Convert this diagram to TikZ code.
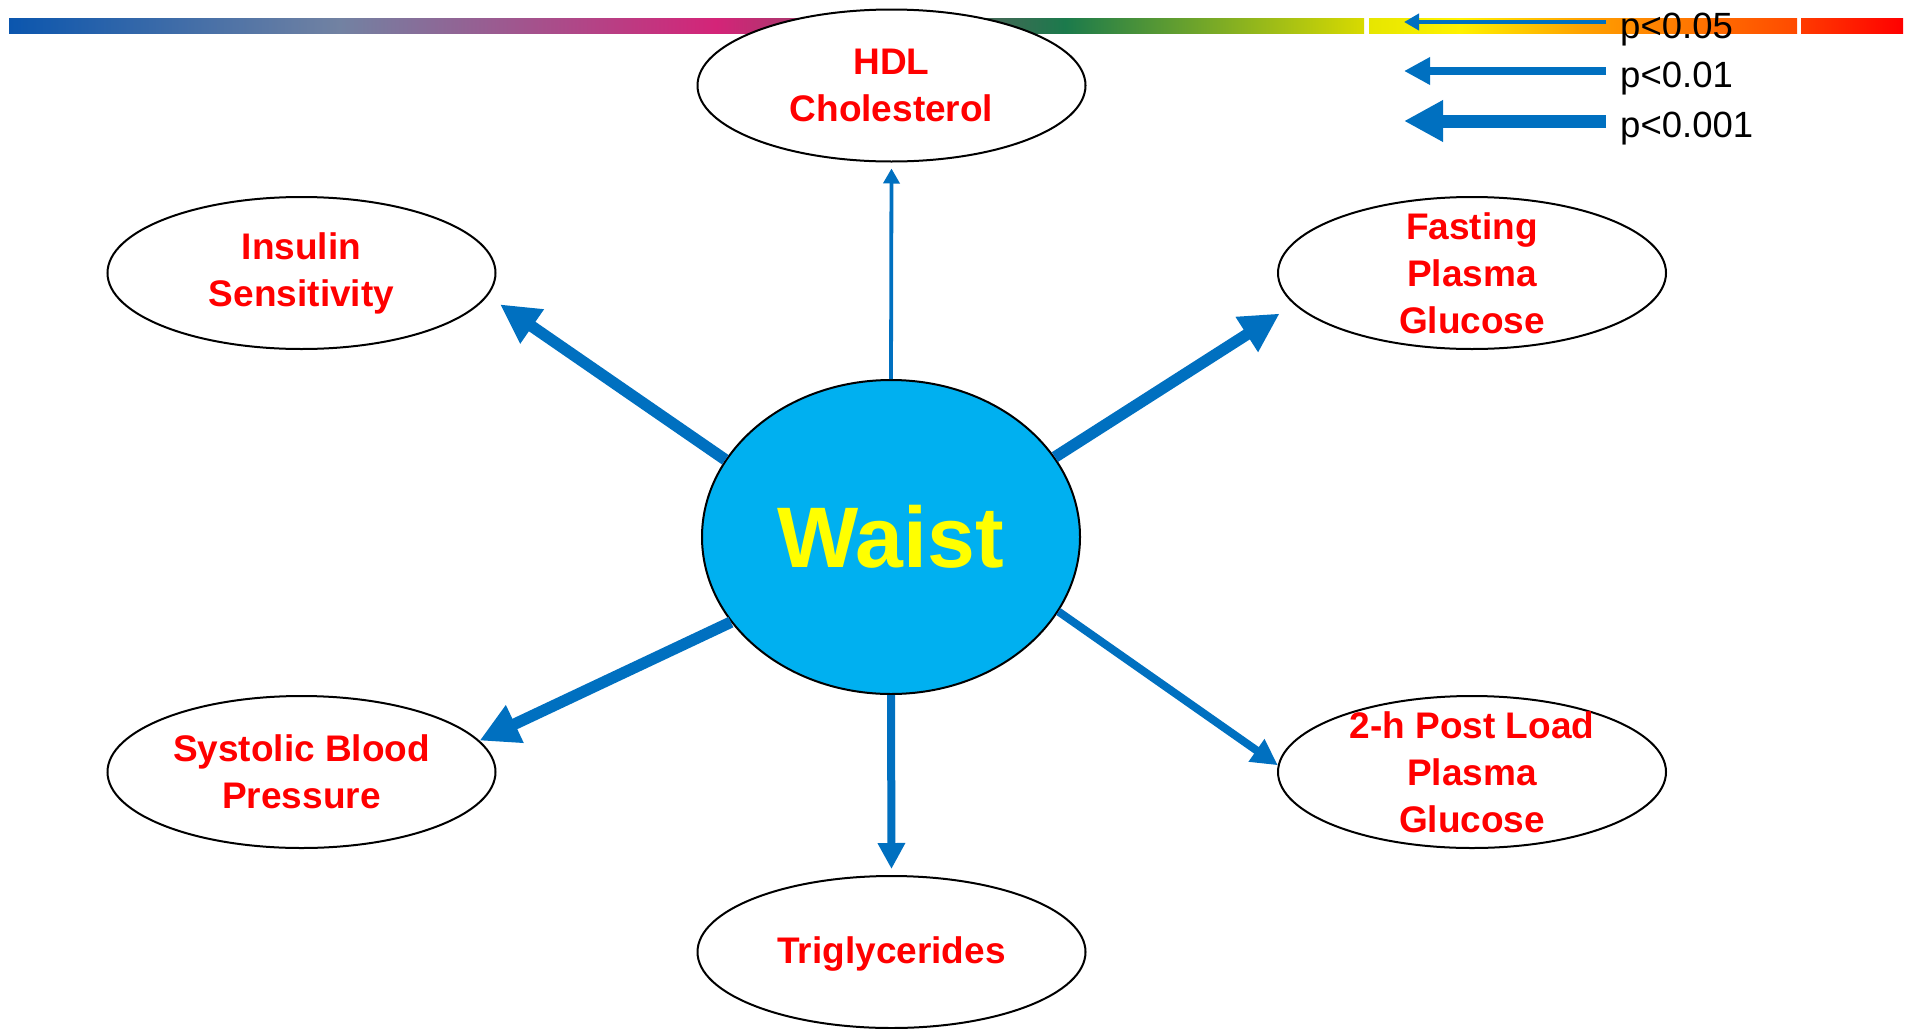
\documentclass[tikz,border=0pt]{standalone}
\usepackage{fontspec}
\setmainfont{Liberation Sans}
\usetikzlibrary{arrows.meta,shapes.geometric}
\definecolor{arrowblue}{HTML}{0070C0}
\definecolor{waistblue}{HTML}{00B0F0}
\definecolor{labelred}{HTML}{FF0000}
\definecolor{waistyellow}{HTML}{FFFF00}
\definecolor{gA}{HTML}{0B56AE}
\definecolor{gB}{HTML}{7282A2}
\definecolor{gC}{HTML}{D42478}
\definecolor{gD}{HTML}{1B7A4C}
\definecolor{gE}{HTML}{D8DA00}
\definecolor{gF}{HTML}{E6E600}
\definecolor{gG}{HTML}{FFF200}
\definecolor{gH}{HTML}{FFA200}
\definecolor{gI}{HTML}{FF4A00}
\definecolor{gJ}{HTML}{FF3A00}
\definecolor{gK}{HTML}{FF0000}
\begin{document}
\begin{tikzpicture}[x=1pt,y=-1pt,
  smallell/.style={ellipse, draw=black, line width=2pt, fill=white,
    minimum width=388pt, minimum height=152pt, inner sep=0pt},
  waistell/.style={ellipse, draw=black, line width=2pt, fill=waistblue,
    minimum width=378pt, minimum height=314pt, inner sep=0pt,
    text=waistyellow, font=\fontsize{86}{90}\selectfont\bfseries},
  lbl/.style={align=center, text=labelred, inner sep=0pt,
    font=\fontsize{37}{47}\selectfont\bfseries},
  legtxt/.style={inner sep=0pt, text=black, font=\fontsize{36.5}{40}\selectfont},
  arrowthick/.style={draw=arrowblue, line width=11.5pt, -{Triangle[length=39pt,width=39pt]}},
  arrowmed/.style={draw=arrowblue, line width=8pt, -{Triangle[length=26pt,width=26pt]}},
  arrowthin/.style={draw=arrowblue, line width=3.8pt, -{Triangle[length=15pt,width=16pt]}}
]
\useasboundingbox (0,0) rectangle (1905,1028);
\fill[white] (0,0) rectangle (1905,1028);

% gradient bar
\shade[left color=gA, right color=gB] (9,18) rectangle (340.5,33);
\shade[left color=gB, right color=gC] (340,18) rectangle (716.5,33);
\shade[left color=gC, right color=gD] (716,18) rectangle (1065.5,33);
\shade[left color=gD, right color=gE] (1065,18) rectangle (1364,33);
\shade[left color=gF, right color=gG] (1369,18) rectangle (1460.5,33);
\shade[left color=gG, right color=gH] (1460,18) rectangle (1580.5,33);
\shade[left color=gH, right color=gI] (1580,18) rectangle (1797,33);
\shade[left color=gJ, right color=gK] (1801,18) rectangle (1903,33);

% outcome ellipses
\node[smallell, label={[lbl]center:{HDL\\Cholesterol}}] (hdl) at (891.5,85.5) {};
\node[smallell, label={[lbl]center:{Insulin\\Sensitivity}}] (insulin) at (301.5,273) {};
\node[smallell, label={[lbl]center:{Fasting\\Plasma\\Glucose}}] (fasting) at (1472,273) {};
\node[smallell, label={[lbl]center:{Systolic Blood\\Pressure}}] (systolic) at (301.5,772) {};
\node[smallell, label={[lbl]center:{2-h Post Load\\Plasma\\Glucose}}] (twoh) at (1472,772) {};
\node[smallell, label={[lbl,yshift=-2pt]center:{Triglycerides}}] (trig) at (891.5,952) {};

% central node
\node[waistell] (waist) at (891,537) {Waist};

% connectors
\draw[arrowthin, shorten >=6pt] (waist.90) -- (hdl.-90);
\draw[arrowthick, shorten >=15pt] (waist.155) -- (insulin.-7);
\draw[arrowthick, shorten >=17pt] (waist.26) -- (fasting.-170);
\draw[arrowthick] (waist.-152) -- (systolic.10);
\draw[arrowmed] (waist.-24) -- (twoh.178);
\draw[arrowmed, shorten >=6pt] (waist.-90) -- (trig.90);

% legend
\coordinate (l05s) at (1606,22);
\coordinate (l05e) at (1404,22);
\coordinate (l01s) at (1606,71);
\coordinate (l01e) at (1404,71);
\coordinate (l001s) at (1606,121);
\coordinate (l001e) at (1404,121);
\draw[arrowthin] (l05s) -- (l05e);
\draw[arrowmed, line width=8.5pt] (l01s) -- (l01e);
\draw[arrowthick, line width=13pt] (l001s) -- (l001e);
\node[legtxt, anchor=base west] (p05) at (1620,38) {p<0.05};
\node[legtxt, anchor=base west] (p01) at (1620,87) {p<0.01};
\node[legtxt, anchor=base west] (p001) at (1620,137) {p<0.001};
\end{tikzpicture}
\end{document}
